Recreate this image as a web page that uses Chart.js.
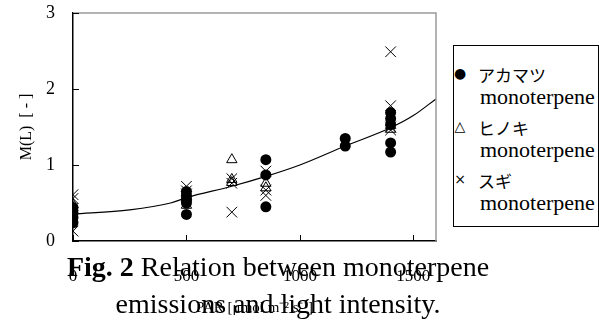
<!DOCTYPE html>
<html>
<head>
<meta charset="utf-8">
<script src="https://cdn.jsdelivr.net/npm/chart.js@4"></script>
<style>
  html, body { margin: 0; padding: 0; background: #fff; }
  #wrap { position: relative; width: 599px; height: 331px; overflow: hidden; }
  #chart { position: absolute; left: 0; top: 0; }
  #legend {
    position: absolute; left: 453px; top: 45px; width: 146px; height: 182px;
    border: 1px solid #000; box-sizing: border-box; background: #fff; overflow: hidden;
  }
  #legend .row { position: absolute; left: 0; white-space: nowrap; }
  #legend .sym { position: absolute; left: 0; width: 12px; text-align: center; font-family: 'DejaVu Sans'; font-size: 14px; }
  #legend .jp { position: absolute; left: 24px; font-family: 'Noto Sans CJK JP'; font-size: 17px; }
  #legend .en { position: absolute; left: 26px; font-family: 'Liberation Serif'; font-size: 22px; }
  .cap { position: absolute; left: 278px; transform: translateX(-50%); white-space: nowrap;
         font-family: 'Liberation Serif'; font-size: 28px; color: #000; }
</style>
</head>
<body>
<div id="wrap">
  <canvas id="chart" width="599" height="331"></canvas>
  <div id="legend"></div>
  <div class="cap" style="top:251px"><b>Fig. 2</b> Relation between monoterpene</div>
  <div class="cap" style="top:288px">emissions and light intensity.</div>
</div>
<script>
// series: PAR [umol m-2 s-1] / M(L) [-]
const akamatsuX = [0, 0, 0, 0, 500, 500, 500, 500, 500, 850, 850, 850, 1200, 1200, 1400, 1400, 1400, 1400, 1400];
const akamatsuY = [0.44, 0.37, 0.31, 0.24, 0.65, 0.60, 0.55, 0.50, 0.35, 1.07, 0.87, 0.45, 1.35, 1.25, 1.69, 1.61, 1.53, 1.29, 1.17];

const hinokiX = [0, 0, 500, 500, 700, 700, 700, 850, 850, 1400, 1400];
const hinokiY = [0.48, 0.44, 0.56, 0.47, 1.07, 0.81, 0.77, 0.76, 0.70, 1.52, 1.47];

const sugiX = [0, 0, 0, 0, 500, 500, 500, 700, 700, 700, 850, 850, 850, 1400, 1400, 1400, 1400];
const sugiY = [0.61, 0.56, 0.43, 0.13, 0.72, 0.66, 0.62, 0.82, 0.76, 0.38, 0.92, 0.67, 0.60, 2.49, 1.78, 1.50, 1.46];

// fitted curve
const fitX = [0, 250, 430, 500, 700, 850, 1000, 1200, 1400, 1500, 1600];
const fitY = [0.355, 0.41, 0.50, 0.57, 0.72, 0.85, 1.00, 1.25, 1.49, 1.65, 1.87];

const xTicks = [0, 500, 1000, 1500];
const yTicks = [0, 1, 2, 3];

const legendItems = [
  { sym: '●', jp: 'アカマツ', en: 'monoterpene' },
  { sym: '△', jp: 'ヒノキ', en: 'monoterpene' },
  { sym: '×', jp: 'スギ', en: 'monoterpene' }
];

function toPoints(xs, ys) {
  return xs.map((x, i) => ({ x: x, y: ys[i] }));
}

// legend (html, two lines per entry)
const legendEl = document.getElementById('legend');
legendItems.forEach((item, i) => {
  const top = 16 + i * 53;
  legendEl.insertAdjacentHTML('beforeend',
    `<div class="row" style="top:${top}px;width:140px">
       <span class="sym" style="top:3px">${item.sym}</span>
       <span class="jp">${item.jp}</span>
     </div>
     <div class="row" style="top:${top + 22}px;width:150px">
       <span class="en">${item.en}</span>
     </div>`);
});

// frame + inward tick marks
const framePlugin = {
  id: 'frame',
  afterDatasetsDraw(chart) {
    const { ctx, chartArea: a, scales } = chart;
    ctx.save();
    ctx.strokeStyle = '#9a9a9a';
    ctx.lineWidth = 1.5;
    ctx.beginPath();
    ctx.moveTo(a.left, a.top);
    ctx.lineTo(a.right, a.top);
    ctx.lineTo(a.right, a.bottom);
    ctx.stroke();

    ctx.strokeStyle = '#000';
    ctx.lineWidth = 1;
    ctx.beginPath();
    xTicks.forEach(v => {
      const px = Math.round(scales.x.getPixelForValue(v)) + 0.5;
      ctx.moveTo(px, a.bottom);
      ctx.lineTo(px, a.bottom - 6);
    });
    yTicks.forEach(v => {
      const py = Math.round(scales.y.getPixelForValue(v)) + 0.5;
      ctx.moveTo(a.left, py);
      ctx.lineTo(a.left + 6, py);
    });
    ctx.stroke();
    ctx.restore();
  }
};

Chart.defaults.font.family = "'Liberation Serif'";
Chart.defaults.color = '#000';

new Chart(document.getElementById('chart').getContext('2d'), {
  type: 'scatter',
  data: {
    datasets: [
      {
        label: 'アカマツ monoterpene',
        data: toPoints(akamatsuX, akamatsuY),
        pointStyle: 'circle',
        pointRadius: 5.5,
        backgroundColor: '#000',
        borderColor: '#000',
        borderWidth: 0
      },
      {
        label: 'ヒノキ monoterpene',
        data: toPoints(hinokiX, hinokiY),
        pointStyle: 'triangle',
        pointRadius: 6,
        backgroundColor: 'rgba(255,255,255,0)',
        borderColor: '#000',
        borderWidth: 1
      },
      {
        label: 'スギ monoterpene',
        data: toPoints(sugiX, sugiY),
        pointStyle: 'crossRot',
        pointRadius: 7.5,
        borderColor: '#000',
        borderWidth: 1
      },
      {
        type: 'line',
        label: 'fit',
        data: toPoints(fitX, fitY),
        borderColor: '#000',
        borderWidth: 1.2,
        pointRadius: 0,
        fill: false,
        cubicInterpolationMode: 'monotone'
      }
    ]
  },
  options: {
    responsive: false,
    animation: false,
    layout: { padding: { top: 13, right: 163, bottom: 0, left: 0 } },
    plugins: {
      legend: { display: false },
      tooltip: { enabled: false }
    },
    scales: {
      x: {
        type: 'linear',
        min: 0,
        max: 1600,
        afterBuildTicks: scale => { scale.ticks = xTicks.map(v => ({ value: v })); },
        afterFit: scale => {
          scale.height = 90;
          scale.paddingLeft = 0;
          scale.paddingRight = 0;
        },
        grid: { display: false, drawTicks: false },
        border: { color: '#000', width: 1.5 },
        ticks: { padding: 25, font: { size: 17 }, maxRotation: 0, callback: v => String(v) },
        title: {
          display: true,
          text: 'PAR [μmol m⁻² s⁻¹]',
          font: { size: 15 },
          padding: { top: 0, bottom: 14 }
        }
      },
      y: {
        type: 'linear',
        min: 0,
        max: 3,
        afterBuildTicks: scale => { scale.ticks = yTicks.map(v => ({ value: v })); },
        afterFit: scale => {
          scale.width = 73;
          scale.paddingTop = 0;
          scale.paddingBottom = 0;
        },
        grid: { display: false, drawTicks: false },
        border: { color: '#000', width: 1.5 },
        ticks: { padding: 18, font: { size: 18 } },
        title: {
          display: true,
          text: 'M(L)  [ - ]',
          font: { size: 16 },
          padding: { top: 17, bottom: 0 }
        }
      }
    }
  },
  plugins: [framePlugin]
});
</script>
</body>
</html>
